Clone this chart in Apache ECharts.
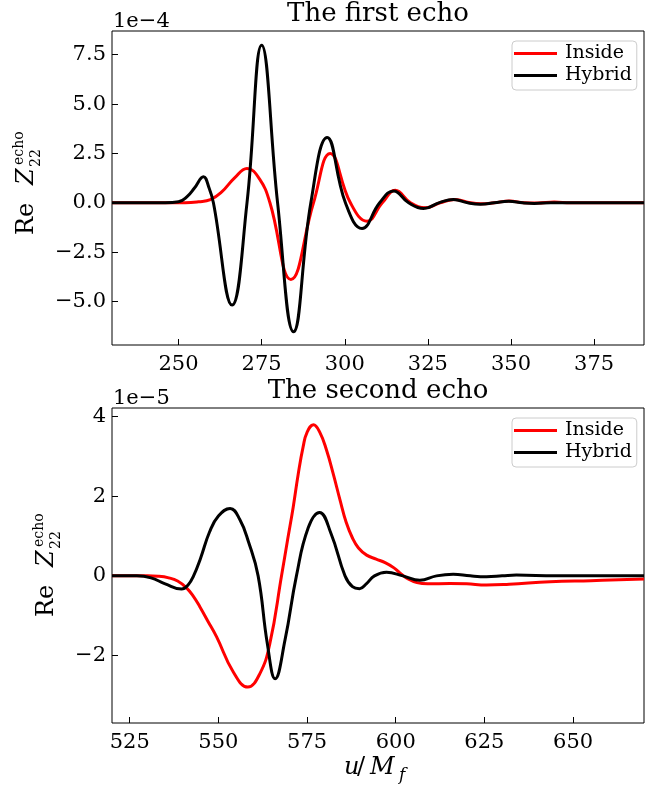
<!DOCTYPE html>
<html>
<head>
<meta charset="utf-8">
<script src="https://cdn.jsdelivr.net/npm/echarts@6/dist/echarts.min.js"></script>
<style>
html,body{margin:0;padding:0;background:#fff;}
#chart{width:670px;height:789px;}
</style>
</head>
<body>
<div id="chart"></div>
<script>
// ---------- DATA (values in units of the offset shown on each axis) ----------
// Top panel: "The first echo", y in units of 1e-4
const topInsideX = [230,252,256,259.6,263,266.8,270.6,274.4,277.5,283.8,290.6,295.6,301.7,306.7,311.3,315.2,319.8,324.3,328.7,333.2,337.8,341,345,349.5,354,358,363,368,390];
const topInsideY = [0,0,0.05,0.16,0.55,1.25,1.74,1.2,0,-3.88,0,2.5,0,-0.93,0,0.63,0,-0.25,0,0.17,0,-0.05,0,0.09,0,-0.01,0.04,0,0];
const topHybridX = [230,246,250,252.5,254.8,257.5,259.2,260.5,266.1,270.6,275,279.8,284.6,289.8,294.7,300.2,305.2,310.5,314.7,319.2,323.7,328.3,332.7,337,340.8,345,349.3,353.5,357,362,390];
const topHybridY = [0,0,0.05,0.3,0.75,1.32,0.75,0,-5.18,0,7.98,0,-6.53,0,3.31,0,-1.3,0,0.6,0,-0.29,0,0.17,0,-0.07,0,0.08,0,-0.03,0,0];
const topTicksX = [250,275,300,325,350,375];
const topTicksY = [-5,-2.5,0,2.5,5,7.5];

// Bottom panel: "The second echo", y in units of 1e-5
const botInsideX = [520,530,533,536,538.5,541,543,544.8,547,549.5,554.2,558.3,561.7,564.5,567.8,569.5,571.1,572.5,573.9,575,576.8,578.6,580.5,582.4,584.3,586,587.8,589.5,591.8,594.5,597,599.5,601.5,603.5,606,609,615.3,620,625.6,632,643.5,655,670];
const botInsideY = [0,0,-0.01,-0.05,-0.13,-0.3,-0.52,-0.78,-1.13,-1.53,-2.41,-2.79,-2.45,-1.7,0,0.9,1.73,2.55,3.24,3.6,3.79,3.6,3.15,2.55,1.9,1.35,0.95,0.7,0.52,0.42,0.33,0.2,0.05,-0.08,-0.17,-0.2,-0.19,-0.2,-0.23,-0.21,-0.15,-0.12,-0.08];
const botHybridX = [520,527,531,535,539.6,541.5,543,545,547.5,550,553.3,556,558.5,561.2,563.8,566,568.8,572,575.3,578.5,581.8,585.7,587.8,589.8,591.7,594,597.4,602,606.8,611.5,616.2,621,625.6,630,634,645,670];
const botHybridY = [0,0,-0.05,-0.2,-0.33,-0.22,0,0.45,1.1,1.5,1.69,1.42,0.85,0,-1.7,-2.58,-1.6,0,1.2,1.59,1.05,0,-0.27,-0.32,-0.2,0,0.09,0,-0.11,0,0.04,0,-0.02,0,0.02,0,0];
const botTicksX = [525,550,575,600,625,650];
const botTicksY = [-2,0,2,4];

const seriesNames = ['Inside','Hybrid'];
const titles = ['The first echo','The second echo'];
const offsets = ['1e\u22124','1e\u22125'];

// ---------- CHART ----------
const FONT = 'DejaVu Serif';
const pair = (xs, ys) => xs.map((x, i) => [x, ys[i]]);
const minus = s => s.replace('-', '\u2212');

function xAxisCfg(gi, min, max, ticks) {
  return {
    gridIndex: gi, type: 'value', min: min, max: max,
    axisLine: {show: false, onZero: false},
    axisTick: {show: true, inside: true, length: 6, lineStyle: {color: '#000', width: 1}, customValues: ticks},
    axisLabel: {customValues: ticks, margin: 9, color: '#000', fontFamily: FONT, fontSize: 21,
      formatter: v => minus(String(v))},
    splitLine: {show: false}
  };
}
function yAxisCfg(gi, min, max, ticks, dec) {
  return {
    gridIndex: gi, type: 'value', min: min, max: max,
    axisLine: {show: false, onZero: false},
    axisTick: {show: true, inside: true, length: 6, lineStyle: {color: '#000', width: 1}, customValues: ticks},
    axisLabel: {customValues: ticks, margin: 6, color: '#000', fontFamily: FONT, fontSize: 21,
      formatter: v => minus(Number(v).toFixed(dec))},
    splitLine: {show: false}
  };
}
function legendCfg(top) {
  return {
    data: seriesNames, orient: 'vertical', left: 512, top: top,
    icon: 'rect', itemWidth: 43, itemHeight: 3, itemGap: 3,
    padding: [3, 5, 5, 2],
    borderColor: '#cccccc', borderWidth: 1, borderRadius: 4,
    backgroundColor: 'rgba(255,255,255,0.8)',
    selectedMode: false,
    textStyle: {fontFamily: FONT, fontSize: 19, color: '#000', padding: [0, 0, 0, 3]}
  };
}
function lineSeries(name, color, xi, data) {
  return {
    name: name, type: 'line', xAxisIndex: xi, yAxisIndex: xi,
    data: data, smooth: 0.45, showSymbol: false, symbol: 'none',
    lineStyle: {color: color, width: 3}, itemStyle: {color: color},
    z: name === 'Hybrid' ? 3 : 2
  };
}
function yLabel(x, y) {
  return {
    type: 'group', x: x, y: y, rotation: Math.PI / 2,
    children: [
      {type: 'text', x: 0, y: 0, style: {text: 'Re', fontFamily: FONT, fontSize: 24, fill: '#000', align: 'left', verticalAlign: 'middle'}},
      {type: 'text', x: 50, y: 0, style: {text: 'Z', fontFamily: FONT, fontStyle: 'italic', fontSize: 24, fill: '#000', align: 'left', verticalAlign: 'middle'}},
      {type: 'text', x: 70, y: -8, style: {text: 'echo', fontFamily: FONT, fontSize: 14, fill: '#000', align: 'left', verticalAlign: 'middle'}},
      {type: 'text', x: 68, y: 9, style: {text: '22', fontFamily: FONT, fontSize: 14, fill: '#000', align: 'left', verticalAlign: 'middle'}}
    ]
  };
}
function txt(text, x, y, size, align, vAlign, italic) {
  return {type: 'text', x: x, y: y, style: {text: text, fontFamily: FONT, fontSize: size, fontStyle: italic ? 'italic' : 'normal', fill: '#000', align: align, verticalAlign: vAlign}};
}

const chart = echarts.init(document.getElementById('chart'), null, {renderer: 'canvas'});
chart.setOption({
  animation: false,
  backgroundColor: '#fff',
  grid: [
    {left: 112, top: 31, width: 532, height: 314, show: true, borderColor: '#000', borderWidth: 1, backgroundColor: 'transparent'},
    {left: 112, top: 408, width: 532, height: 315, show: true, borderColor: '#000', borderWidth: 1, backgroundColor: 'transparent'}
  ],
  xAxis: [xAxisCfg(0, 230, 390, topTicksX), xAxisCfg(1, 520, 670, botTicksX)],
  yAxis: [yAxisCfg(0, -7.2, 8.7, topTicksY, 1), yAxisCfg(1, -3.69, 4.21, botTicksY, 0)],
  legend: [legendCfg(41), legendCfg(418)],
  series: [
    lineSeries(seriesNames[0], '#ff0000', 0, pair(topInsideX, topInsideY)),
    lineSeries(seriesNames[1], '#000000', 0, pair(topHybridX, topHybridY)),
    lineSeries(seriesNames[0], '#ff0000', 1, pair(botInsideX, botInsideY)),
    lineSeries(seriesNames[1], '#000000', 1, pair(botHybridX, botHybridY))
  ],
  graphic: [
    txt(titles[0], 378, 27, 26, 'center', 'bottom'),
    txt(titles[1], 378, 404, 26, 'center', 'bottom'),
    txt(offsets[0], 113, 32, 21, 'left', 'bottom'),
    txt(offsets[1], 113, 409, 21, 'left', 'bottom'),
    yLabel(27, 235),
    yLabel(47, 617),
    txt('u', 344, 768, 24, 'left', 'middle', true),
    txt('/', 357, 768, 24, 'left', 'middle', false),
    txt('M', 370, 768, 24, 'left', 'middle', true),
    txt('f', 399, 776, 17, 'left', 'middle', true)
  ]
});
</script>
</body>
</html>
